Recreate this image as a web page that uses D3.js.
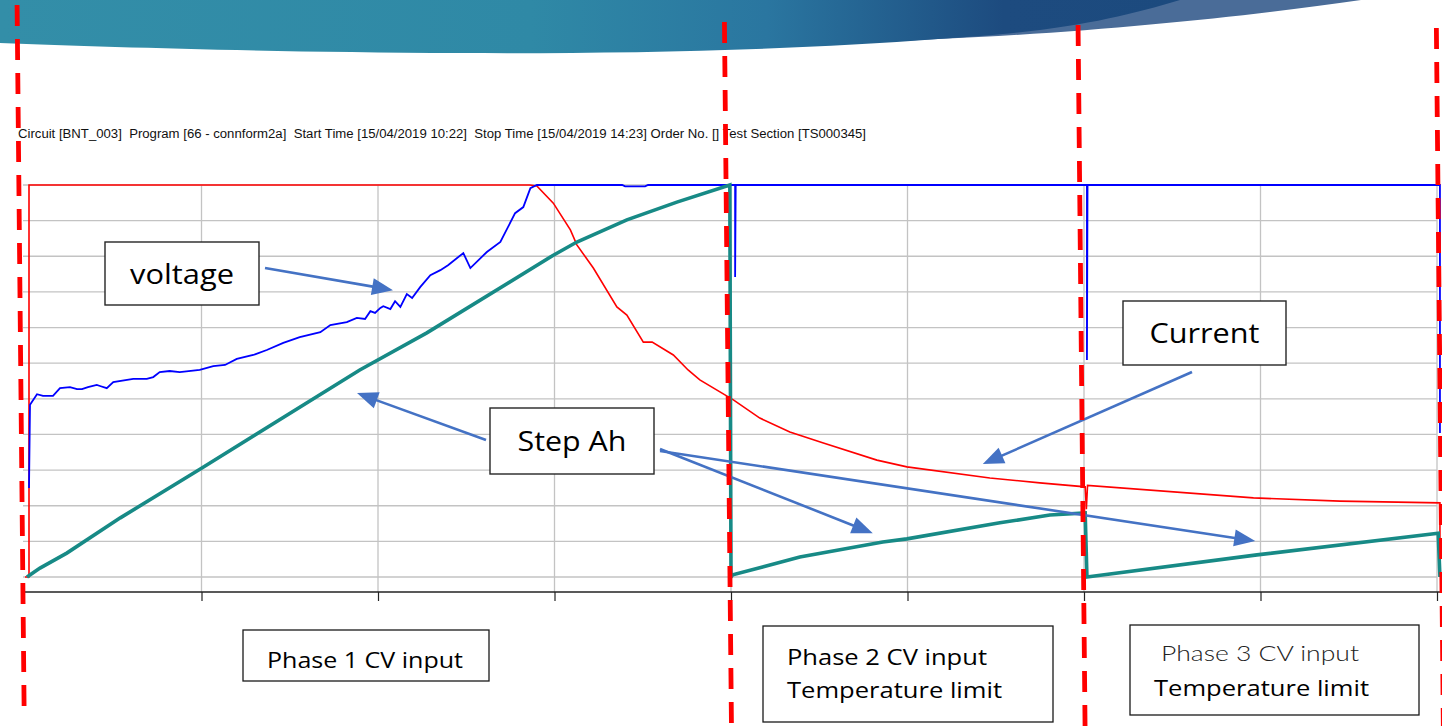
<!DOCTYPE html>
<html>
<head>
<meta charset="utf-8">
<script src="https://cdn.jsdelivr.net/npm/d3@7"></script>
<style>
  html, body { margin: 0; padding: 0; background: #fff; overflow: hidden; }
  svg { display: block; }
  text { white-space: pre; }
</style>
</head>
<body>
<svg id="chart" width="1442" height="726"></svg>
<script>
// time in minutes from start (10:22), values in grid units of the logger plot
const timeTicks = [0, 30, 60, 90, 120, 150, 180, 210, 240];
const gridLevels = [0, 1, 2, 3, 4, 5, 6, 7, 8, 9, 10, 11];

const currentPts = [
  [0, 0], [0.68, 0], [0.68, 11], [85.8, 11], [87.0, 10.97], [89.8, 10.49], [92.7, 9.74],
  [93.8, 9.32], [96.6, 8.67], [100.6, 7.58], [102.3, 7.35], [105.1, 6.59], [106.6, 6.59],
  [110.2, 6.23], [112.7, 5.81], [114.7, 5.53], [120.4, 4.97], [124.9, 4.46], [130.0, 4.07],
  [135.7, 3.76], [144.8, 3.28], [149.9, 3.09], [164.0, 2.78], [172.5, 2.64], [180.2, 2.53],
  [180.4, 1.9], [180.6, 2.57], [208.8, 2.22], [223.5, 2.13], [240.5, 2.08], [240.5, 0]
];

const voltagePts = [
  [0.68, 2.50], [0.85, 4.83], [2.04, 5.13], [3.06, 5.08], [4.76, 5.08], [5.95, 5.30],
  [7.65, 5.33], [8.84, 5.27], [9.69, 5.27], [10.7, 5.33], [12.2, 5.39], [12.75, 5.36],
  [13.9, 5.30], [15.0, 5.47], [18.4, 5.56], [20.7, 5.56], [21.8, 5.61], [22.9, 5.75],
  [24.6, 5.78], [26.3, 5.75], [29.7, 5.81], [32.0, 5.92], [34.0, 5.95], [36.0, 6.12],
  [38.8, 6.23], [41.1, 6.37], [43.9, 6.57], [46.7, 6.73], [50.2, 6.87], [51.9, 7.07],
  [54.7, 7.15], [56.4, 7.27], [57.8, 7.24], [58.7, 7.46], [59.5, 7.41], [60.4, 7.55],
  [60.9, 7.60], [62.1, 7.52], [62.9, 7.74], [63.8, 7.58], [64.9, 7.94], [65.8, 7.83],
  [67.2, 8.14], [68.9, 8.47], [70.6, 8.61], [71.9, 8.75], [74.5, 9.09], [75.7, 8.67],
  [78.5, 9.12], [80.8, 9.40], [83.3, 10.21], [84.7, 10.38], [85.9, 10.91], [87.0, 11],
  [101.5, 11], [102.0, 10.96], [105.4, 10.96], [105.9, 11], [120.7, 11], [120.7, 8.42],
  [120.8, 11], [180.5, 11], [180.5, 6.09], [180.6, 11], [240.5, 11], [240.5, 4.04]
];

const stepAhPts = [
  [0.34, 0], [2.55, 0.25], [7.1, 0.67], [16.2, 1.66], [30.0, 3.05], [56.9, 5.81],
  [68.3, 6.85], [89.8, 9.03], [93.8, 9.40], [102.3, 10.02], [110.8, 10.52], [119.8, 11],
  [120.0, 0], [120.3, 0.06], [131.7, 0.56], [145.8, 0.98], [149.9, 1.07], [165.7, 1.52],
  [174.2, 1.74], [180.2, 1.80], [180.5, 0], [209.4, 0.62], [240.2, 1.23], [240.5, 0]
];

const phaseMarks = [-0.7, 119.5, 179.6, 240.5];

const headerText = "Circuit [BNT_003]  Program [66 - connform2a]  Start Time [15/04/2019 10:22]  Stop Time [15/04/2019 14:23] Order No. [] Test Section [TS000345]";

const svg = d3.select("#chart");

// slide banner
const defs = svg.append("defs");
const grad = defs.append("linearGradient").attr("id", "band").attr("x1", 0).attr("x2", 1).attr("y1", 0).attr("y2", 0);
grad.append("stop").attr("offset", 0).attr("stop-color", "#338ea8");
grad.append("stop").attr("offset", 0.45).attr("stop-color", "#2f89a6");
grad.append("stop").attr("offset", 0.65).attr("stop-color", "#2a76a0");
grad.append("stop").attr("offset", 0.85).attr("stop-color", "#1d4b7f");
grad.append("stop").attr("offset", 1).attr("stop-color", "#1c4a7e");
svg.append("path")
    .attr("d", "M900,0 H1361 C1250,16 1100,32 938,39 L900,41 Z")
    .attr("fill", "#4a6c98");
svg.append("path")
    .attr("d", "M0,0 H1180 C1120,18 1060,32 938,39 C800,50 620,54 460,53 C260,52 110,47 0,43 Z")
    .attr("fill", "url(#band)");

// header line
svg.append("text")
    .attr("x", 18).attr("y", 138)
    .attr("textLength", 848).attr("lengthAdjust", "spacingAndGlyphs")
    .style("font-family", "Liberation Sans, Arial, sans-serif")
    .style("font-size", "12.5px")
    .attr("fill", "#111")
    .text(headerText);

// scales
const x = d3.scaleLinear().domain([0, 240]).range([25, 1437]);
const y = d3.scaleLinear().domain([0, 11]).range([577, 185]);
const axisY = 592;

// grid
svg.append("g").selectAll("line")
    .data(gridLevels)
    .join("line")
    .attr("x1", 23).attr("x2", x(240))
    .attr("y1", d => y(d)).attr("y2", d => y(d))
    .attr("stroke", "#c3c3c3").attr("stroke-width", 1.3);
svg.append("g").selectAll("line")
    .data(timeTicks.slice(1))
    .join("line")
    .attr("x1", d => x(d)).attr("x2", d => x(d))
    .attr("y1", y(11)).attr("y2", axisY)
    .attr("stroke", "#c3c3c3").attr("stroke-width", 1.3);

// x axis
const xAxis = svg.append("g")
    .attr("transform", "translate(0," + axisY + ")")
    .call(d3.axisBottom(x).tickValues(timeTicks.slice(1)).tickFormat("").tickSize(9).tickSizeOuter(0));
xAxis.select(".domain").remove();
xAxis.selectAll(".tick line").attr("stroke", "#222").attr("stroke-width", 1.2);
svg.append("line")
    .attr("x1", 23).attr("x2", 1442).attr("y1", axisY).attr("y2", axisY)
    .attr("stroke", "#222").attr("stroke-width", 1.6);

// series
const line = d3.line().x(d => x(d[0])).y(d => y(d[1]));
svg.append("path").datum(currentPts)
    .attr("d", line).attr("fill", "none")
    .attr("stroke", "#ff0000").attr("stroke-width", 1.6);
svg.append("path").datum(voltagePts)
    .attr("d", line).attr("fill", "none")
    .attr("stroke", "#0000ff").attr("stroke-width", 1.8);
svg.append("path").datum(stepAhPts)
    .attr("d", line).attr("fill", "none")
    .attr("stroke", "#178a86").attr("stroke-width", 3.6);

// call-outs
const callouts = [
  { label: "voltage", box: [105, 242, 154, 63], arrows: [{ from: [265, 268], to: [62.55, 8.05] }] },
  { label: "Step Ah", box: [490, 408, 164, 66], arrows: [
      { from: [486, 440], to: [56.43, 5.16] },
      { from: [660, 449], to: [144.1, 1.23] },
      { from: [660, 451], to: [209.1, 1.01] } ] },
  { label: "Current", box: [1123, 301, 163, 64], arrows: [{ from: [1192, 372], to: [162.8, 3.17] }] }
];
const textW = { "voltage": 104, "Step Ah": 109, "Current": 110 };

const ann = svg.append("g");
callouts.forEach(c => {
  c.arrows.forEach(a => {
    const tx = x(a.to[0]), ty = y(a.to[1]);
    const dx = tx - a.from[0], dy = ty - a.from[1];
    const len = Math.sqrt(dx * dx + dy * dy);
    const ux = dx / len, uy = dy / len;
    const hl = 21, hw = 8.5;
    const bx = tx - ux * hl, by = ty - uy * hl;
    ann.append("line")
        .attr("x1", a.from[0]).attr("y1", a.from[1])
        .attr("x2", bx + ux * 2).attr("y2", by + uy * 2)
        .attr("stroke", "#4472c4").attr("stroke-width", 2.6);
    ann.append("polygon")
        .attr("points", [[tx, ty], [bx - uy * hw, by + ux * hw], [bx + uy * hw, by - ux * hw]].map(p => p.join(",")).join(" "))
        .attr("fill", "#4472c4");
  });
  ann.append("rect")
      .attr("x", c.box[0]).attr("y", c.box[1]).attr("width", c.box[2]).attr("height", c.box[3])
      .attr("fill", "#fff").attr("stroke", "#262626").attr("stroke-width", 1.4);
  ann.append("text")
      .attr("x", c.box[0] + c.box[2] / 2).attr("y", c.box[1] + c.box[3] / 2 + 10)
      .attr("text-anchor", "middle")
      .attr("textLength", textW[c.label]).attr("lengthAdjust", "spacingAndGlyphs")
      .style("font-family", "Open Sans, Noto Sans, sans-serif")
      .style("font-size", "27px")
      .attr("fill", "#000")
      .text(c.label);
});

// phase boxes below the axis
const phaseBoxes = [
  { box: [243, 630, 246, 51], lines: [{ t: "Phase 1 CV input", x: 267, y: 668, w: 196 }] },
  { box: [763, 626, 290, 96], lines: [{ t: "Phase 2 CV input", x: 787, y: 665, w: 200 },
                                     { t: "Temperature limit", x: 787, y: 698, w: 215 }] },
  { box: [1130, 625, 289, 90], lines: [{ t: "Phase 3 CV input", x: 1161, y: 661, w: 198, light: true },
                                      { t: "Temperature limit", x: 1154, y: 696, w: 215 }] }
];
phaseBoxes.forEach(p => {
  svg.append("rect")
      .attr("x", p.box[0]).attr("y", p.box[1]).attr("width", p.box[2]).attr("height", p.box[3])
      .attr("fill", "#fff").attr("stroke", "#1a1a1a").attr("stroke-width", 1.3);
  p.lines.forEach(l => {
    svg.append("text")
        .attr("x", l.x).attr("y", l.y)
        .attr("textLength", l.w).attr("lengthAdjust", "spacingAndGlyphs")
        .style("font-family", l.light ? "Lato, DejaVu Sans, sans-serif" : "Open Sans, Noto Sans, sans-serif")
        .style("font-weight", l.light ? 300 : 400)
        .style("font-size", "21px")
        .attr("fill", l.light ? "#222" : "#000")
        .text(l.t);
  });
});

// hand-drawn phase separators (slightly leaning)
const sepTop = [5, 22, 25, 28], sepBot = [710, 726, 726, 726];
svg.append("g").selectAll("line")
    .data(phaseMarks)
    .join("line")
    .attr("x1", (d, i) => x(d) - 0.01 * (385 - sepTop[i]))
    .attr("x2", (d, i) => x(d) + 0.01 * (sepBot[i] - 385))
    .attr("y1", (d, i) => sepTop[i])
    .attr("y2", (d, i) => sepBot[i])
    .attr("stroke", "#ff0000").attr("stroke-width", 4.8)
    .attr("stroke-dasharray", "21,13");
</script>
</body>
</html>
